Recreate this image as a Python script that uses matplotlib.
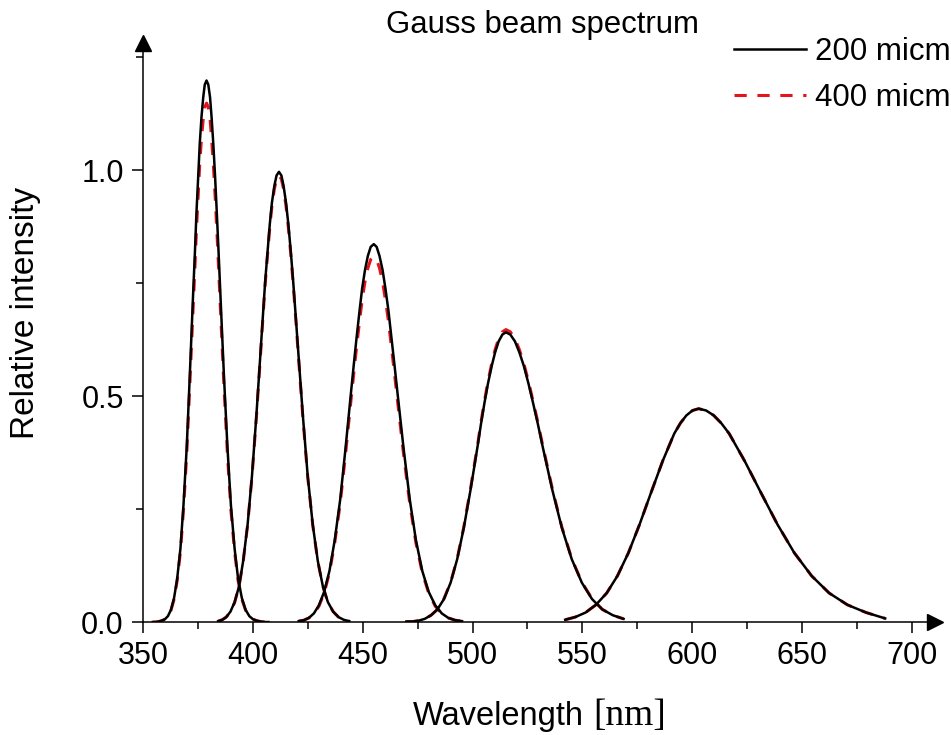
import matplotlib
matplotlib.use("Agg")
from matplotlib import pyplot as plt
from matplotlib.ticker import MultipleLocator, FormatStrFormatter

plt.rcParams['font.family'] = 'Liberation Sans'

# 読み取った値 (波長 nm / 相対強度), ピークごと
wl_1 = [354.3, 355.6, 357.0, 358.4, 359.8, 361.2, 362.6, 364.0, 365.4, 366.9, 368.3, 369.8,
        371.2, 372.7, 373.5, 374.2, 375.0, 375.7, 376.5, 377.3, 378.0, 378.8, 379.6, 380.4,
        381.1, 381.9, 382.7, 383.5, 384.3, 385.1, 386.7, 388.3, 389.9, 391.6, 393.2, 394.9,
        396.6, 398.3, 400.0, 401.7, 403.4, 405.2, 407.0]
i200_1 = [0.000, 0.000, 0.001, 0.003, 0.006, 0.013, 0.027, 0.053, 0.095, 0.162, 0.259, 0.389,
          0.548, 0.727, 0.817, 0.904, 0.985, 1.057, 1.117, 1.161, 1.189, 1.198, 1.189, 1.161,
          1.117, 1.057, 0.985, 0.904, 0.817, 0.727, 0.548, 0.389, 0.259, 0.162, 0.095, 0.053,
          0.027, 0.013, 0.006, 0.003, 0.001, 0.000, 0.000]
i400_1 = [0.000, 0.000, 0.001, 0.003, 0.006, 0.013, 0.026, 0.050, 0.091, 0.155, 0.248, 0.373,
          0.526, 0.696, 0.783, 0.867, 0.944, 1.013, 1.070, 1.113, 1.139, 1.148, 1.139, 1.113,
          1.070, 1.013, 0.944, 0.867, 0.783, 0.696, 0.526, 0.373, 0.248, 0.155, 0.091, 0.050,
          0.026, 0.013, 0.006, 0.003, 0.001, 0.000, 0.000]

wl_2 = [384.1, 386.0, 387.8, 389.7, 391.6, 393.6, 395.5, 397.5, 399.5, 401.5, 403.5, 404.5,
        405.5, 406.6, 407.6, 408.6, 409.7, 410.7, 411.8, 412.9, 413.9, 415.0, 416.1, 417.2,
        418.3, 419.4, 420.5, 422.7, 424.9, 427.2, 429.5, 431.8, 434.1, 436.5, 438.9, 441.3,
        443.8]
i200_2 = [0.002, 0.005, 0.011, 0.023, 0.044, 0.079, 0.135, 0.215, 0.323, 0.456, 0.604, 0.679,
          0.752, 0.819, 0.879, 0.928, 0.965, 0.988, 0.996, 0.988, 0.965, 0.928, 0.879, 0.819,
          0.752, 0.679, 0.604, 0.456, 0.323, 0.215, 0.135, 0.079, 0.044, 0.023, 0.011, 0.005,
          0.002]
i400_2 = [0.002, 0.005, 0.011, 0.023, 0.043, 0.079, 0.134, 0.214, 0.321, 0.452, 0.599, 0.674,
          0.746, 0.813, 0.872, 0.921, 0.958, 0.980, 0.988, 0.980, 0.958, 0.921, 0.872, 0.813,
          0.746, 0.674, 0.599, 0.452, 0.321, 0.214, 0.134, 0.079, 0.043, 0.023, 0.011, 0.005,
          0.002]

wl_3 = [420.8, 423.1, 425.4, 427.7, 430.0, 432.4, 434.8, 437.2, 439.7, 442.1, 444.6, 445.9,
        447.2, 448.5, 449.7, 451.0, 452.3, 453.6, 455.0, 456.3, 457.6, 459.0, 460.3, 461.7,
        463.0, 464.4, 465.8, 468.6, 471.4, 474.2, 477.1, 480.0, 483.0, 486.0, 489.0, 492.1,
        495.2]
i200_3 = [0.002, 0.004, 0.009, 0.019, 0.037, 0.067, 0.113, 0.181, 0.271, 0.383, 0.507, 0.570,
          0.631, 0.688, 0.738, 0.779, 0.810, 0.830, 0.836, 0.830, 0.810, 0.779, 0.738, 0.688,
          0.631, 0.570, 0.507, 0.383, 0.271, 0.181, 0.113, 0.067, 0.037, 0.019, 0.009, 0.004,
          0.002]
i400_3 = [0.002, 0.004, 0.009, 0.018, 0.035, 0.064, 0.109, 0.175, 0.262, 0.370, 0.490, 0.551,
          0.610, 0.665, 0.713, 0.753, 0.783, 0.802, 0.808, 0.802, 0.783, 0.753, 0.713, 0.665,
          0.610, 0.551, 0.490, 0.370, 0.262, 0.175, 0.109, 0.064, 0.035, 0.018, 0.009, 0.004,
          0.002]

wl_4 = [469.8, 472.6, 475.4, 478.2, 481.1, 484.0, 487.0, 490.0, 493.0, 496.0, 499.1, 502.3,
        503.8, 505.4, 507.0, 508.7, 510.3, 511.9, 513.6, 515.2, 517.2, 519.3, 521.3, 523.4,
        525.5, 527.6, 529.8, 531.9, 536.3, 540.7, 545.2, 549.8, 554.4, 559.1, 563.9, 568.8]
i200_4 = [0.001, 0.001, 0.003, 0.007, 0.015, 0.028, 0.051, 0.087, 0.139, 0.208, 0.293, 0.389,
          0.437, 0.484, 0.527, 0.566, 0.597, 0.621, 0.636, 0.641, 0.636, 0.621, 0.597, 0.566,
          0.527, 0.484, 0.437, 0.389, 0.293, 0.208, 0.139, 0.087, 0.051, 0.028, 0.015, 0.007]
i400_4 = [0.001, 0.001, 0.003, 0.007, 0.015, 0.028, 0.052, 0.088, 0.140, 0.210, 0.296, 0.392,
          0.441, 0.488, 0.532, 0.571, 0.603, 0.627, 0.642, 0.647, 0.642, 0.627, 0.603, 0.571,
          0.532, 0.488, 0.441, 0.392, 0.296, 0.210, 0.140, 0.088, 0.052, 0.028, 0.015, 0.007]

wl_5 = [542.2, 546.8, 551.5, 556.2, 561.1, 566.0, 571.0, 576.1, 581.3, 586.6, 591.9, 594.7,
        597.4, 600.2, 603.0, 606.4, 609.9, 613.3, 616.9, 624.0, 631.4, 638.9, 646.6, 654.5,
        662.5, 670.8, 679.3, 688.0]
i200_5 = [0.005, 0.011, 0.021, 0.038, 0.064, 0.102, 0.153, 0.216, 0.286, 0.356, 0.417, 0.440,
          0.457, 0.468, 0.472, 0.468, 0.457, 0.440, 0.417, 0.356, 0.286, 0.216, 0.153, 0.102,
          0.064, 0.038, 0.021, 0.008]
i400_5 = [0.005, 0.011, 0.021, 0.038, 0.064, 0.102, 0.153, 0.216, 0.286, 0.356, 0.417, 0.440,
          0.457, 0.468, 0.472, 0.468, 0.457, 0.440, 0.417, 0.356, 0.286, 0.216, 0.153, 0.102,
          0.064, 0.038, 0.021, 0.008]

wls = [wl_1, wl_2, wl_3, wl_4, wl_5]
i200 = [i200_1, i200_2, i200_3, i200_4, i200_5]
i400 = [i400_1, i400_2, i400_3, i400_4, i400_5]
labels = ["200 micm", "400 micm"]

fig = plt.figure(figsize=(9.51, 7.35), dpi=100)
ax = fig.add_axes([0.1507, 0.1537, 0.8325, 0.7878])

# 赤(破線)を先に、黒(実線)を上に描く
for k in range(len(wls)):
    l2, = ax.plot(wls[k], i400[k], color='#e3141c', lw=2.2, ls=(0, (4.0, 3.5)))
for k in range(len(wls)):
    l1, = ax.plot(wls[k], i200[k], color='k', lw=1.8)

ax.set_xlim(350, 710.7)
ax.set_ylim(0, 1.281)
ax.spines['top'].set_visible(False)
ax.spines['right'].set_visible(False)
ax.spines['left'].set_linewidth(1.1)
ax.spines['bottom'].set_linewidth(1.1)

ax.xaxis.set_major_locator(MultipleLocator(50))
ax.xaxis.set_minor_locator(MultipleLocator(25))
ax.yaxis.set_major_locator(MultipleLocator(0.5))
ax.yaxis.set_minor_locator(MultipleLocator(0.25))
ax.yaxis.set_major_formatter(FormatStrFormatter('%.1f'))
ax.tick_params(which='major', length=8, width=1.1, direction='out', labelsize=22, pad=6)
ax.tick_params(which='minor', length=5, width=1.1, direction='out')

# 軸の矢印
ax.plot(1, 0, '>k', ms=12, transform=ax.transAxes, clip_on=False)
ax.plot(0, 1, '^k', ms=12, transform=ax.transAxes, clip_on=False)

ax.legend([l1, l2], labels, loc='upper left', bbox_to_anchor=(734 / 951, 1 - 37 / 735),
          bbox_transform=fig.transFigure, frameon=False, fontsize=22.5,
          handlelength=2.3, handletextpad=0.29, labelspacing=0.51,
          borderpad=0, borderaxespad=0)

fig.text(542.5 / 951, 1 - 33 / 735, "Gauss beam spectrum", ha='center', va='baseline', fontsize=22.4)
fig.text(26 / 951, 0.574, "Relative intensity", rotation=90, ha='center', va='center', fontsize=24)
fig.text(413 / 951, 1 - 725 / 735, "Wavelength", ha='left', va='baseline', fontsize=23.5)
fig.text(593 / 951, 1 - 725 / 735, "[nm]", ha='left', va='baseline', fontsize=27,
         family='Liberation Serif')

fig.savefig('out.png', dpi=100)
